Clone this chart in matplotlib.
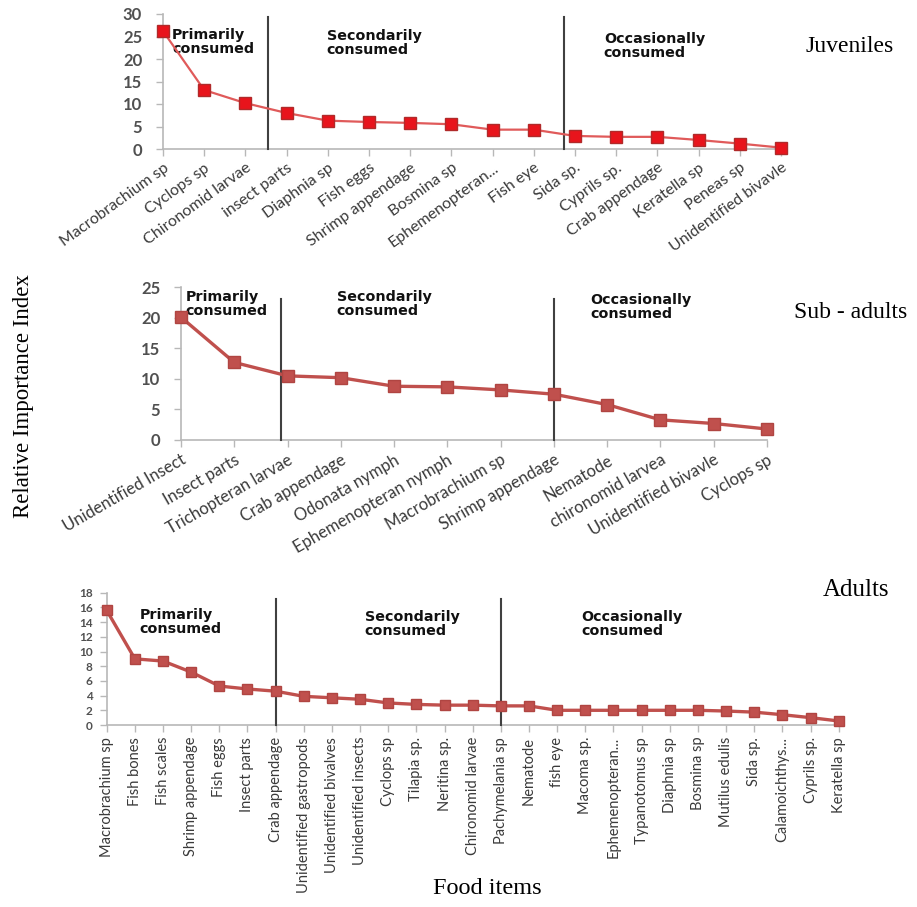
import matplotlib
matplotlib.use("Agg")
import matplotlib.pyplot as plt

# ---------------- data ----------------
juv_items = ["Macrobrachium sp", "Cyclops sp", "Chironomid larvae", "insect parts",
             "Diaphnia sp", "Fish eggs", "Shrimp appendage", "Bosmina sp",
             "Ephemenopteran...", "Fish eye", "Sida sp.", "Cyprils sp.",
             "Crab appendage", "Keratella sp", "Peneas sp", "Unidentified bivavle"]
juv_values = [26.2, 13.1, 10.2, 8.0, 6.3, 6.0, 5.8, 5.5, 4.3, 4.3, 2.9, 2.7, 2.7, 2.0, 1.2, 0.3]

sub_items = ["Unidentified Insect", "Insect parts", "Trichopteran larvae", "Crab appendage",
             "Odonata nymph", "Ephemenopteran nymph", "Macrobrachium sp", "Shrimp appendage",
             "Nematode", "chironomid larvea", "Unidentified bivavle", "Cyclops sp"]
sub_values = [20.1, 12.7, 10.5, 10.2, 8.8, 8.7, 8.2, 7.5, 5.8, 3.3, 2.7, 1.8]

adu_items = ["Macrobrachium sp", "Fish bones", "Fish scales", "Shrimp appendage", "Fish eggs",
             "Insect parts", "Crab appendage", "Unidentified gastropods", "Unidentified bivalves",
             "Unidentified insects", "Cyclops sp", "Tilapia sp.", "Neritina sp.",
             "Chironomid larvae", "Pachymelania sp", "Nematode", "fish eye", "Macoma sp.",
             "Ephemenopteran...", "Typanotomus sp", "Diaphnia sp", "Bosmina sp",
             "Mutilus edulis", "Sida sp.", "Calamoichthys...", "Cyprils sp.", "Keratella sp"]
adu_values = [15.6, 9.0, 8.7, 7.2, 5.3, 4.9, 4.6, 3.9, 3.7, 3.5, 3.0, 2.8, 2.7, 2.7, 2.6,
              2.6, 2.0, 2.0, 2.0, 2.0, 2.0, 2.0, 1.9, 1.75, 1.4, 1.0, 0.55]

juv_dividers = [2.55, 9.73]
sub_dividers = [1.87, 7.0]
adu_dividers = [6.0, 14.0]

group_labels = ["Primarily\nconsumed", "Secondarily\nconsumed", "Occasionally\nconsumed"]

W, H = 917, 907
fig = plt.figure(figsize=(W / 100, H / 100), dpi=100)

def px_axes(l, r, t, b):
    return fig.add_axes([l / W, 1 - b / H, (r - l) / W, (b - t) / H])

tick_font = "Lato"
grey_txt = "#3a3a3a"
spine_c = "#b8b8b8"

def style(ax, n, ymax, ystep, ysize, ypad):
    ax.set_xlim(0, n - 1)
    ax.set_ylim(0, ymax)
    for s in ["top", "right"]:
        ax.spines[s].set_visible(False)
    for s in ["left", "bottom"]:
        ax.spines[s].set_color(spine_c)
        ax.spines[s].set_linewidth(1.2)
    ax.set_yticks(range(0, ymax + 1, ystep))
    ax.tick_params(axis="both", direction="out", length=5, width=1, color=spine_c,
                   labelcolor=grey_txt)
    ax.tick_params(axis="y", pad=ypad)
    for lab in ax.get_yticklabels():
        lab.set_fontfamily(tick_font)
        lab.set_fontsize(ysize)
        lab.set_fontweight("bold")
        lab.set_color("#505050")
    ax.set_facecolor("none")

def group_text(ax, x, y, s):
    ax.text(x, y, s, fontfamily="DejaVu Sans", fontweight="bold", fontsize=10.3,
            va="top", ha="left", linespacing=1.0, color="#111111")

# ---------- Juveniles ----------
ax1 = px_axes(163, 781, 14, 149)
style(ax1, len(juv_items), 30, 5, 12, 10)
x1 = list(range(len(juv_items)))
ax1.plot(x1, juv_values, color="#e05a5a", lw=1.6, marker="s", ms=8.5,
         mfc="#e8141c", mec="#b02a2a", mew=1.0, clip_on=False, zorder=5)
ax1.set_xticks(x1)
ax1.set_xticklabels(juv_items, rotation=36, ha="right", rotation_mode="anchor",
                    fontfamily=tick_font, fontsize=11.5, color=grey_txt)
for d in juv_dividers:
    ax1.plot([d, d], [0, 29.3], color="#404040", lw=1.5, clip_on=False, zorder=4)
group_text(ax1, 0.22, 26.8, group_labels[0])
group_text(ax1, 3.97, 26.75, group_labels[1])
group_text(ax1, 10.7, 26.05, group_labels[2])

# ---------- Sub-adults ----------
ax2 = px_axes(181, 767, 287.3, 440)
style(ax2, len(sub_items), 25, 5, 12, 10)
x2 = list(range(len(sub_items)))
ax2.plot(x2, sub_values, color="#c0504d", lw=2.4, marker="s", ms=8,
         mfc="#c0504d", mec="#b04542", mew=1.0, clip_on=False, zorder=5)
ax2.set_xticks(x2)
ax2.set_xticklabels(sub_items, rotation=30, ha="right", rotation_mode="anchor",
                    fontfamily=tick_font, fontsize=12, color=grey_txt)
for d in sub_dividers:
    ax2.plot([d, d], [0, 23.1], color="#404040", lw=1.5, clip_on=False, zorder=4)
group_text(ax2, 0.08, 24.6, group_labels[0])
group_text(ax2, 2.92, 24.6, group_labels[1])
group_text(ax2, 7.69, 24.1, group_labels[2])

# ---------- Adults ----------
ax3 = px_axes(106.7, 844.3, 592.7, 725)
style(ax3, len(adu_items), 18, 2, 8.5, 5)
x3 = list(range(len(adu_items)))
ax3.plot(x3, adu_values, color="#c0504d", lw=2.4, marker="s", ms=7.5,
         mfc="#c0504d", mec="#b04542", mew=1.0, clip_on=False, zorder=5)
ax3.set_xticks(x3)
ax3.set_xticklabels(adu_items, rotation=90, ha="right", va="center",
                    rotation_mode="anchor", fontfamily=tick_font, fontsize=10.5,
                    color=grey_txt)
ax3.set_xlim(0, len(adu_items) - 1 + 0.2)
for d in adu_dividers:
    ax3.plot([d, d], [0, 17.2], color="#404040", lw=1.5, clip_on=False, zorder=4)
group_text(ax3, 1.17, 15.9, group_labels[0])
group_text(ax3, 9.16, 15.6, group_labels[1])
group_text(ax3, 16.86, 15.6, group_labels[2])

# ---------- panel & axis titles ----------
serif = "Liberation Serif"
fig.text(806 / W, 1 - 47 / H, "Juveniles", fontfamily=serif, fontsize=17,
         ha="left", va="center")
fig.text(794 / W, 1 - 312 / H, "Sub - adults", fontfamily=serif, fontsize=17,
         ha="left", va="center")
fig.text(823 / W, 1 - 590 / H, "Adults", fontfamily=serif, fontsize=18,
         ha="left", va="center")
fig.text(24 / W, 1 - 396 / H, "Relative Importance Index", fontfamily=serif,
         fontsize=16.5, rotation=90, ha="center", va="center")
fig.text(487 / W, 1 - 889 / H, "Food items", fontfamily=serif, fontsize=17.5,
         ha="center", va="center")

fig.savefig("out.png", dpi=100, facecolor="white")
